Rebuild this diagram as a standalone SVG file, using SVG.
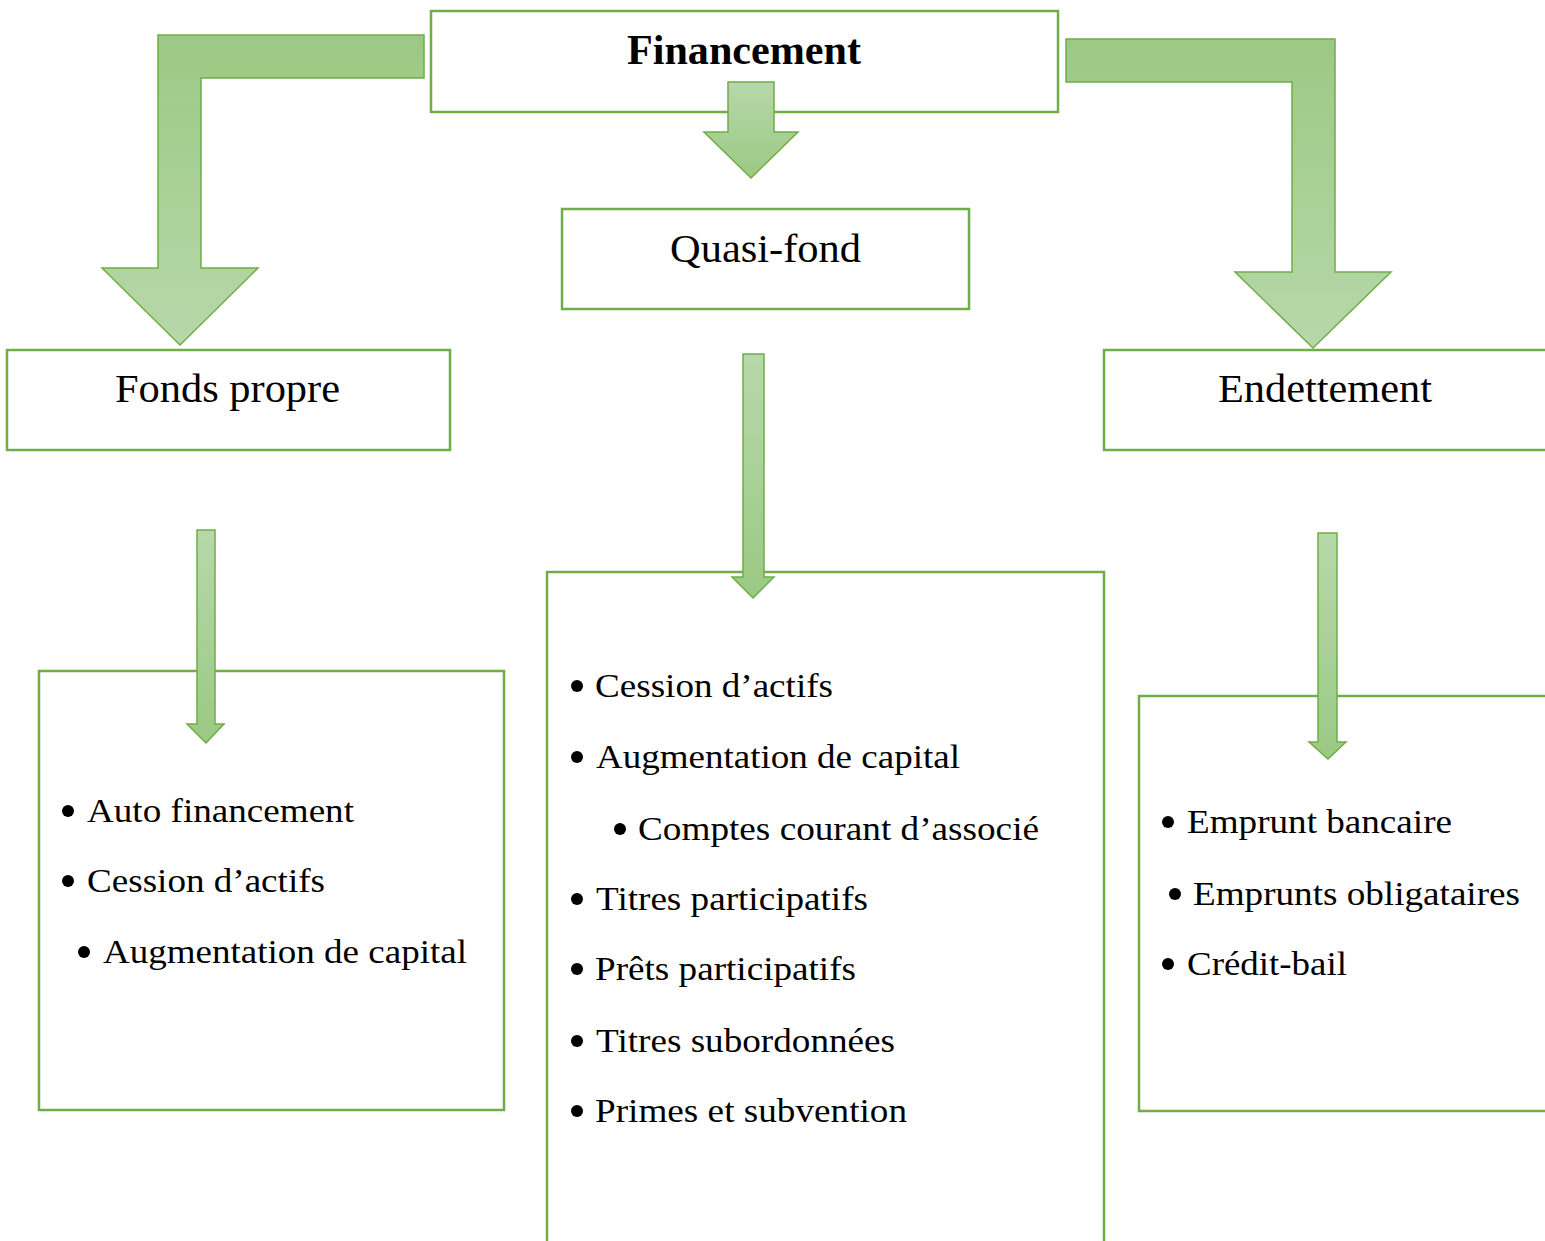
<svg xmlns="http://www.w3.org/2000/svg" width="1545" height="1241" viewBox="0 0 1545 1241">
  <defs>
    <!-- bent arrows: darker at the top, lighter toward the head -->
    <linearGradient id="gDown" x1="0" y1="0" x2="0" y2="1">
      <stop offset="0" stop-color="#9bc984"/>
      <stop offset="1" stop-color="#b7d8aa"/>
    </linearGradient>
    <!-- straight arrows: lighter at the top, darker toward the head -->
    <linearGradient id="gUp" x1="0" y1="0" x2="0" y2="1">
      <stop offset="0" stop-color="#b7d8aa"/>
      <stop offset="1" stop-color="#9bc984"/>
    </linearGradient>
    <style>
      .box { fill: #ffffff; stroke: #70ad47; stroke-width: 2.5; }
      .arrow { stroke: #70ad47; stroke-width: 1.5; stroke-linejoin: miter; }
      .title { font-family: "Liberation Serif", "Times New Roman", serif; font-size: 40px; fill: #000; }
      .bold { font-weight: bold; font-size: 42px; }
      .item { font-family: "Liberation Serif", "Times New Roman", serif; font-size: 34px; fill: #000; }
      .dot { fill: #000; }
    </style>
  </defs>

  <!-- boxes -->
  <g id="financement">
    <rect class="box" x="431" y="11" width="627" height="101"/>
    <text class="title bold" x="627" y="64" textLength="234" lengthAdjust="spacingAndGlyphs">Financement</text>
  </g>
  <g id="quasi-fond">
    <rect class="box" x="562" y="209" width="407" height="100"/>
    <text class="title" x="670" y="262" textLength="191" lengthAdjust="spacingAndGlyphs">Quasi-fond</text>
  </g>
  <g id="fonds-propre">
    <rect class="box" x="7" y="350" width="443" height="100"/>
    <text class="title" x="115" y="402" textLength="225" lengthAdjust="spacingAndGlyphs">Fonds propre</text>
  </g>
  <g id="endettement">
    <rect class="box" x="1104" y="350" width="460" height="100"/>
    <text class="title" x="1218" y="402" textLength="214" lengthAdjust="spacingAndGlyphs">Endettement</text>
  </g>

  <g id="liste-fonds-propre">
    <rect class="box" x="39" y="671" width="465" height="439"/>
    <circle class="dot" cx="68" cy="811" r="6"/>
    <text class="item" x="87" y="822" textLength="267" lengthAdjust="spacingAndGlyphs">Auto financement</text>
    <circle class="dot" cx="68" cy="881" r="6"/>
    <text class="item" x="87" y="892" textLength="238" lengthAdjust="spacingAndGlyphs">Cession d’actifs</text>
    <circle class="dot" cx="84" cy="952" r="6"/>
    <text class="item" x="103" y="963" textLength="364" lengthAdjust="spacingAndGlyphs">Augmentation de capital</text>
  </g>

  <g id="liste-quasi-fond">
    <rect class="box" x="547" y="572" width="557" height="700"/>
    <circle class="dot" cx="577" cy="686" r="6"/>
    <text class="item" x="595" y="697" textLength="238" lengthAdjust="spacingAndGlyphs">Cession d’actifs</text>
    <circle class="dot" cx="577" cy="757" r="6"/>
    <text class="item" x="596" y="768" textLength="364" lengthAdjust="spacingAndGlyphs">Augmentation de capital</text>
    <circle class="dot" cx="620" cy="829" r="6"/>
    <text class="item" x="638" y="840" textLength="401" lengthAdjust="spacingAndGlyphs">Comptes courant d’associé</text>
    <circle class="dot" cx="577" cy="899" r="6"/>
    <text class="item" x="596" y="910" textLength="272" lengthAdjust="spacingAndGlyphs">Titres participatifs</text>
    <circle class="dot" cx="577" cy="969" r="6"/>
    <text class="item" x="595" y="980" textLength="261" lengthAdjust="spacingAndGlyphs">Prêts participatifs</text>
    <circle class="dot" cx="577" cy="1041" r="6"/>
    <text class="item" x="596" y="1052" textLength="299" lengthAdjust="spacingAndGlyphs">Titres subordonnées</text>
    <circle class="dot" cx="577" cy="1111" r="6"/>
    <text class="item" x="595" y="1122" textLength="312" lengthAdjust="spacingAndGlyphs">Primes et subvention</text>
  </g>

  <g id="liste-endettement">
    <rect class="box" x="1139" y="696" width="430" height="415"/>
    <circle class="dot" cx="1168" cy="822" r="6"/>
    <text class="item" x="1187" y="833" textLength="265" lengthAdjust="spacingAndGlyphs">Emprunt bancaire</text>
    <circle class="dot" cx="1175" cy="894" r="6"/>
    <text class="item" x="1193" y="905" textLength="327" lengthAdjust="spacingAndGlyphs">Emprunts obligataires</text>
    <circle class="dot" cx="1168" cy="964" r="6"/>
    <text class="item" x="1187" y="975" textLength="160" lengthAdjust="spacingAndGlyphs">Crédit-bail</text>
  </g>

  <!-- connectors: block arrows drawn over the boxes -->
  <g id="connecteurs">
    <path class="arrow" fill="url(#gDown)" d="M424,35 L158,35 L158,268 L102,268 L180,345 L258,268 L201,268 L201,78 L424,78 Z"/>
    <path class="arrow" fill="url(#gUp)" d="M728,82 L774,82 L774,132 L798,132 L751,178 L704,132 L728,132 Z"/>
    <path class="arrow" fill="url(#gDown)" d="M1066,39 L1335,39 L1335,272 L1391,272 L1313,348 L1235,272 L1292,272 L1292,82 L1066,82 Z"/>
    <path class="arrow" fill="url(#gUp)" d="M743,354 L764,354 L764,577 L774,577 L753,598 L732,577 L743,577 Z"/>
    <path class="arrow" fill="url(#gUp)" d="M197,530 L215,530 L215,724 L224,724 L206,743 L187,724 L197,724 Z"/>
    <path class="arrow" fill="url(#gUp)" d="M1318,533 L1337,533 L1337,742 L1346,742 L1328,759 L1309,742 L1318,742 Z"/>
  </g>
</svg>
